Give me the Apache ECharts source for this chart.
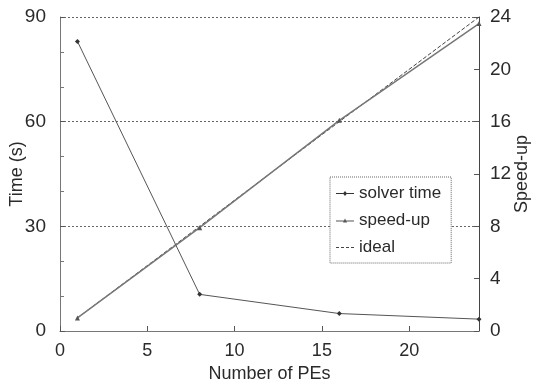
<!DOCTYPE html>
<html>
<head>
<meta charset="utf-8">
<script src="https://cdn.jsdelivr.net/npm/echarts@6/dist/echarts.min.js"></script>
<style>
  html, body { margin: 0; padding: 0; background: #fff; }
  #chart { width: 535px; height: 386px; }
</style>
</head>
<body>
<div id="chart"></div>
<script>
// 数据
var peCounts = [1, 8, 16, 24];
var solverTime = [83, 10.5, 5.0, 3.4];
var speedUp = [1, 7.9, 16.1, 23.5];
var ideal = [1, 8, 16, 24];

function pairs(xs, ys) {
  var out = [];
  for (var i = 0; i < xs.length; i++) {
    out.push([xs[i], ys[i]]);
  }
  return out;
}

var font = "'Liberation Sans', Arial, sans-serif";
var textColor = '#2a2a2a';

var myChart = echarts.init(document.getElementById('chart'));
var option = {
  backgroundColor: '#ffffff',
  animation: false,
  textStyle: { fontFamily: font },
  grid: { left: 60, right: 56, top: 17, bottom: 55, containLabel: false, outerBoundsMode: 'none' },
  legend: {
    orient: 'vertical',
    left: 330,
    top: 177,
    padding: [8, 10, 7, 6],
    itemGap: 10,
    itemWidth: 18,
    itemHeight: 8,
    borderColor: '#666',
    borderWidth: 1,
    borderType: 'dotted',
    backgroundColor: '#fff',
    textStyle: { fontSize: 17, color: textColor, fontFamily: font },
    data: [
      { name: 'solver time', icon: 'path://M0,4L18,4L18,5L0,5ZM9,2L11,4.5L9,7L7,4.5Z' },
      { name: 'speed-up', icon: 'path://M0,4L18,4L18,5L0,5ZM9,2L11,6L7,6Z' },
      { name: 'ideal', icon: 'path://M0,4L3,4L3,5L0,5ZM5,4L8,4L8,5L5,5ZM10,4L13,4L13,5L10,5ZM15,4L18,4L18,5L15,5Z' }
    ]
  },
  xAxis: {
    type: 'value',
    min: 0,
    max: 24,
    interval: 5,
    name: 'Number of PEs',
    nameLocation: 'middle',
    nameGap: 34,
    nameMoveOverlap: false,
    nameTextStyle: { fontSize: 18, color: textColor },
    axisLine: { lineStyle: { color: '#777', width: 1 } },
    axisTick: { inside: true, length: 5, lineStyle: { color: '#555' } },
    axisLabel: { fontSize: 18, color: textColor, margin: 11, showMaxLabel: false },
    splitLine: { show: false }
  },
  yAxis: [
    {
      type: 'value',
      min: 0,
      max: 90,
      interval: 30,
      name: 'Time (s)',
      nameLocation: 'middle',
      nameGap: 34,
      nameMoveOverlap: false,
      nameRotate: 90,
      nameTextStyle: { fontSize: 18, color: textColor },
      axisLine: { show: true, lineStyle: { color: '#777', width: 1 } },
      axisTick: { inside: true, length: 5, lineStyle: { color: '#555' } },
      minorTick: { show: true, splitNumber: 3, length: 4, lineStyle: { color: '#777' } },
      axisLabel: { fontSize: 19, color: textColor, margin: 14 },
      splitLine: { show: true, lineStyle: { color: '#666', type: [2, 2], width: 1 } }
    },
    {
      type: 'value',
      min: 0,
      max: 24,
      interval: 4,
      name: 'Speed-up',
      nameLocation: 'middle',
      nameGap: 34,
      nameMoveOverlap: false,
      nameRotate: 90,
      nameTextStyle: { fontSize: 18, color: textColor },
      axisLine: { show: true, lineStyle: { color: '#444', width: 1 } },
      axisTick: { inside: true, length: 5, lineStyle: { color: '#555' } },
      axisLabel: { fontSize: 19, color: textColor, margin: 11 },
      splitLine: { show: false }
    }
  ],
  series: [
    {
      name: 'solver time',
      type: 'line',
      yAxisIndex: 0,
      data: pairs(peCounts, solverTime),
      symbol: 'diamond',
      symbolSize: 5,
      lineStyle: { color: '#555', width: 1 },
      itemStyle: { color: '#333' },
      z: 3
    },
    {
      name: 'speed-up',
      type: 'line',
      yAxisIndex: 1,
      data: pairs(peCounts, speedUp),
      symbol: 'triangle',
      symbolSize: 5,
      lineStyle: { color: '#777', width: 1.5 },
      itemStyle: { color: '#555' },
      z: 3
    },
    {
      name: 'ideal',
      type: 'line',
      yAxisIndex: 1,
      data: pairs(peCounts, ideal),
      symbol: 'none',
      lineStyle: { color: '#444', width: 1, type: [4, 2] },
      itemStyle: { color: '#444' },
      z: 2
    }
  ]
};

if (option && typeof option == "object") {
  myChart.setOption(option, true);
}
</script>
</body>
</html>
